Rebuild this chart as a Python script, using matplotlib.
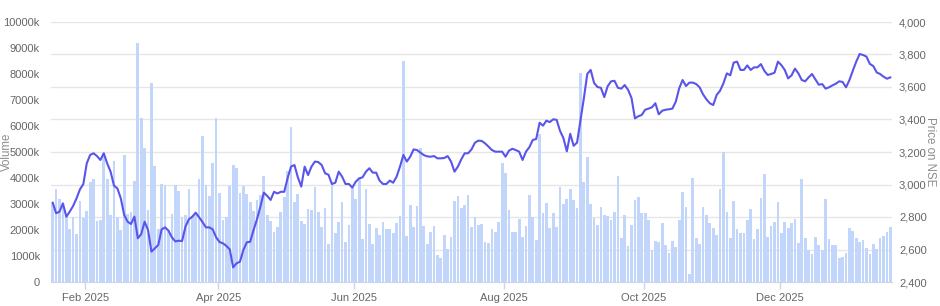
import numpy as np
import pandas as pd
import matplotlib
matplotlib.use("Agg")
import matplotlib.pyplot as plt
from matplotlib.ticker import FuncFormatter, MultipleLocator

plt.rcParams['font.family'] = ['Liberation Sans', 'DejaVu Sans']

# ---- trading calendar (x categories) ----
START_DATE = "2025-01-20"
HOLIDAYS = ["2025-02-26", "2025-03-14", "2025-03-31", "2025-04-10", "2025-04-14",
            "2025-04-18", "2025-05-01", "2025-08-15", "2025-08-27", "2025-10-02",
            "2025-10-22", "2025-11-05", "2025-12-25", "2026-01-15", "2026-01-26"]
SPECIAL_SESSIONS = ["2025-02-01"]
TICK_MONTHS = ["2025-02", "2025-04", "2025-06", "2025-08", "2025-10", "2025-12"]

# ---- daily volume (thousands of shares) ----
volume_k = [
    3030, 3580, 3180, 3050, 2600, 2050, 2500, 1860, 3100, 2450, 2750, 3850, 3970, 2330, 2380,
    4970, 3970, 2580, 4670, 2500, 2000, 4900, 2600, 2700, 3870, 9200, 6300, 5170, 2760, 7650,
    4460, 2050, 3780, 3750, 2000,
    2600, 3720, 3490, 2500, 2560, 3590, 2550, 2600, 3970, 5600, 3740, 3300, 4560, 6300, 3430,
    2380, 2490, 3690, 4510, 4400, 3410, 3690, 3400, 3090, 2720, 3150, 3350, 4090, 2560, 2350,
    1920, 2120, 2700, 3280, 4270,
    5970, 3080, 3380, 2350, 2240, 2800, 2780, 3640, 2680, 2120, 2850, 1460, 3790, 1870, 2290,
    3080, 1550, 2190, 3600, 3180, 3950, 1670, 3580, 2220, 1460, 2060, 1810, 2310, 2040, 2040,
    1900, 2270, 2550, 8500, 1770,
    2970, 2100, 2940, 5140, 2150, 1460, 1940, 2150, 1030, 920, 1810, 1260, 1730, 3120, 3310,
    2860, 2970, 3330, 2120, 2510, 2200, 2240, 1530, 1500, 2030, 1940, 2300, 4590, 4180, 2760,
    1940, 1940, 2420, 1730, 2140,
    3350, 2510, 1620, 5690, 2640, 3040, 2060, 2670, 2100, 3640, 2990, 3210, 3590, 3150, 2830,
    8030, 3850, 4820, 3000, 2470, 2200, 2900, 2590, 2540, 2380, 2690, 4060, 1680, 2580, 1400,
    2180, 3140, 3270, 2650, 2650, 2380,
    1230, 1560, 1540, 2280, 1440, 1130, 1560, 1360, 2400, 3460, 2900, 310, 3990, 1690, 1460,
    2870, 2590, 2280, 2060, 1810, 3560, 5000, 2690, 1690, 3100, 2050, 1900, 1900, 2380, 2790,
    1670, 2050, 3230, 4150, 1730, 2150, 2320, 3080, 1880, 2320, 2080, 2260, 2420, 1510, 3950,
    1690, 1230, 1080, 1730, 1420, 1230, 3190, 1670, 1410, 1410, 920, 950, 1100, 2080, 1950,
    1690, 1540, 1620, 1320, 1080, 1450, 1280, 1690, 1770, 1920, 2130,
]

# ---- daily closing price on NSE ----
price = [
    2888, 2823, 2833, 2884, 2802, 2833, 2868, 2915, 2970, 3003, 3130, 3182, 3192, 3175, 3151,
    3192, 3130, 3079, 2993, 2976, 2915, 2812, 2771, 2757, 2802, 2669, 2695, 2771, 2720, 2587,
    2607, 2628, 2724, 2736, 2716,
    2675, 2650, 2654, 2652, 2741, 2786, 2802, 2827, 2798, 2769, 2736, 2736, 2724, 2675, 2646,
    2638, 2622, 2601, 2490, 2515, 2525, 2597, 2644, 2648, 2720, 2786, 2864, 2950, 2930, 2905,
    2955, 2945, 2955, 2955, 3040,
    3110, 3120, 3044, 2987, 3110, 3058, 3110, 3141, 3138, 3120, 3069, 3060, 3003, 3011, 3079,
    3048, 3003, 3003, 2981, 3017, 3038, 3044, 3079, 3100, 3073, 3073, 3024, 3003, 3003, 3024,
    3011, 3048, 3110, 3182, 3141,
    3171, 3216, 3212, 3196, 3181, 3173, 3171, 3175, 3161, 3161, 3163, 3175, 3141, 3079, 3110,
    3155, 3192, 3192, 3216, 3257, 3270, 3268, 3253, 3233, 3212, 3202, 3202, 3202, 3171, 3208,
    3220, 3212, 3202, 3151, 3202,
    3230, 3274, 3280, 3380, 3362, 3393, 3384, 3401, 3398, 3330, 3285, 3204, 3312, 3238, 3258,
    3395, 3530, 3680, 3705, 3625, 3600, 3595, 3538, 3605, 3635, 3638, 3595, 3590, 3612, 3582,
    3532, 3407, 3420, 3428, 3460, 3467,
    3475, 3500, 3432, 3454, 3460, 3463, 3467, 3510, 3592, 3643, 3606, 3627, 3627, 3618, 3598,
    3555, 3524, 3500, 3489, 3551, 3577, 3623, 3684, 3672, 3750, 3756, 3705, 3705, 3733, 3705,
    3721, 3721, 3741, 3700, 3674, 3680, 3688, 3756, 3735, 3705, 3653, 3672, 3713, 3684, 3643,
    3635, 3659, 3680, 3647, 3614, 3618, 3590, 3598, 3610, 3620, 3635, 3631, 3598, 3643, 3701,
    3756, 3803, 3797, 3787, 3742, 3729, 3690, 3680, 3664, 3651, 3659,
]

n = min(len(volume_k), len(price))
volume_k = np.array(volume_k[:n], dtype=float)
price = np.array(price[:n], dtype=float)

days = pd.bdate_range(START_DATE, "2026-06-30")
days = days.union(pd.DatetimeIndex(SPECIAL_SESSIONS)).difference(pd.DatetimeIndex(HOLIDAYS))[:n]
x = np.arange(n)

# month tick positions (first trading day of each labelled month)
tick_pos, tick_lab = [], []
for m in TICK_MONTHS:
    per = pd.Period(m, "M")
    idx = np.where(days.to_period("M") == per)[0]
    if len(idx):
        tick_pos.append(idx[0] - 0.4)
        tick_lab.append(per.strftime("%b %Y"))

GRID = "#e6e6e6"
AXIS = "#ccd6eb"
LABEL = "#666666"
TITLE = "#8c8c8c"
BAR = "#c2d5fb"
LINE = "#5a55ea"
FS = 8.0

VMAX = 10000
PMIN, PMAX = 2400, 4000

fig = plt.figure(figsize=(9.4, 3.06), dpi=100)
ax = fig.add_axes([51 / 940, 24 / 306, 841 / 940, 260 / 306])
ax2 = ax.twinx()

# grid aligned with right (price) axis ticks
for p in np.arange(PMIN, PMAX + 1, 200):
    ax.axhline((p - PMIN) / (PMAX - PMIN) * VMAX, color=GRID, lw=1, zorder=0)

ax.bar(x, volume_k, width=0.8, color=BAR, linewidth=0, zorder=2)
ax.set_xlim(-0.5, n - 0.5)
ax.set_ylim(0, VMAX)
ax.yaxis.set_major_locator(MultipleLocator(1000))
ax.yaxis.set_major_formatter(FuncFormatter(lambda v, _: "0" if v == 0 else f"{int(v)}k"))
ax.tick_params(axis="y", length=0, pad=8, labelsize=FS, labelcolor=LABEL)

ax2.plot(x, price, color=LINE, lw=1.5, zorder=5, solid_joinstyle="round")
ax2.set_ylim(PMIN, PMAX)
ax2.yaxis.set_major_locator(MultipleLocator(200))
ax2.yaxis.set_major_formatter(FuncFormatter(lambda v, _: f"{int(v):,}"))
ax2.tick_params(axis="y", length=0, pad=5, labelsize=FS, labelcolor=LABEL)

ax.set_xticks(tick_pos)
ax.set_xticklabels(tick_lab)
ax.tick_params(axis="x", length=5, width=1, color=AXIS, pad=3, labelsize=FS, labelcolor=LABEL)

for a in (ax, ax2):
    for s in ("top", "left", "right", "bottom"):
        a.spines[s].set_visible(False)
ax.spines["bottom"].set_visible(True)
ax.spines["bottom"].set_color(AXIS)

ax.set_ylabel("Volume", color=TITLE, fontsize=8.3, va="center", ha="center")
ax.yaxis.set_label_coords(-0.0525, 0.5)
ax2.set_ylabel("Price on NSE", color=TITLE, fontsize=8.3, rotation=270, va="center", ha="center")
ax2.yaxis.set_label_coords(1.0455, 0.5)

fig.savefig("out.png", dpi=100)
